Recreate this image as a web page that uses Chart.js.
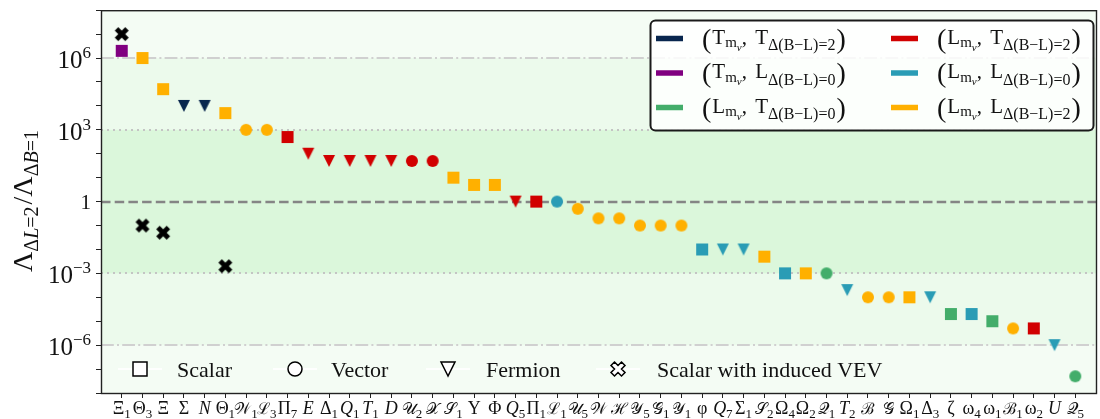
<!DOCTYPE html>
<html><head><meta charset="utf-8">
<script src="https://cdn.jsdelivr.net/npm/chart.js@4"></script>
<style>
html,body{margin:0;padding:0;overflow:hidden;background:#fff;width:1100px;height:419px}
#wrap{width:1104px;height:419px}
canvas{display:block}
</style></head>
<body><div id="wrap"><canvas id="c" width="1104" height="419"></canvas></div>
<script>
// ---------------- data ----------------
const categories = ['Ξ₁','Θ₃','Ξ','Σ','N','Θ₁','𝒲₁','ℒ₃','Π₇','E','Δ₁','Q₁','T₁','D','𝒰₂','𝒳','𝒮₁','Υ','Φ','Q₅','Π₁','ℒ₁','𝒰₅','𝒲','ℋ','𝒴₅','𝒢₁','𝒴₁','φ','Q₇','Σ₁','𝒮₂','Ω₄','Ω₂','𝒬₁','T₂','ℬ','𝒢','Ω₁','Δ₃','ζ','ω₄','ω₁','ℬ₁','ω₂','U','𝒬₅'];
const values = [2e6,1e6,5e4,1e4,1e4,5e3,1e3,1e3,5e2,1e2,50,50,50,50,50,50,10,5,5,1,1,1,0.5,0.2,0.2,0.1,0.1,0.1,1e-2,1e-2,1e-2,5e-3,1e-3,1e-3,1e-3,2e-4,1e-4,1e-4,1e-4,1e-4,2e-5,2e-5,1e-5,5e-6,5e-6,1e-6,5e-8];
const groups = ['TL0','LL2','LL2','TT2','TT2','LL2','LL2','LL2','LT2','LT2','LT2','LT2','LT2','LT2','LT2','LT2','LL2','LL2','LL2','LT2','LT2','LL0','LL2','LL2','LL2','LL2','LL2','LL2','LL0','LL0','LL0','LL2','LL0','LL2','LT0','LL0','LL2','LL2','LL2','LL0','LT0','LL0','LT0','LL2','LT2','LL0','LT0'];
const particles = ['S','S','S','F','F','S','V','V','S','F','F','F','F','F','V','V','S','S','S','F','S','V','V','V','V','V','V','V','S','F','F','S','S','S','V','F','V','V','S','F','S','S','S','V','S','F','V'];
const vevCategories = ['Ξ₁','Θ₃','Ξ','Θ₁'];
const vevValues = [1e7,0.1,0.05,2e-3];
const groupKeys = ['TT2','TL0','LT0','LT2','LL0','LL2'];
const groupColors = ['#08264e','#800080','#43ad6a','#d10000','#2a9cb5','#ffb000'];
const legendMass = ['T','T','L','L','L','L'];
const legendDelta = ['T','L','T','T','L','L'];
const legendDeltaVal = ['2','0','0','2','0','2'];
const yTickExponents = [-6,-3,0,3,6];
const markerLegendShapes = ['S','V','F','X'];
const markerLegendLabels = ['Scalar','Vector','Fermion','Scalar with induced VEV'];

// ---------------- helpers ----------------
const SERIF = '"Liberation Serif","DejaVu Serif",serif';
function shapePath(g, shape, s){
  const h = s/2; g.beginPath();
  if (shape==='S') g.rect(-h,-h,s,s);
  else if (shape==='V') g.arc(0,0,h,0,Math.PI*2);
  else if (shape==='F'){ g.moveTo(0,h); g.lineTo(-h,-h); g.lineTo(h,-h); g.closePath(); }
  else { const p=[[-1,-2],[0,-1],[1,-2],[2,-1],[1,0],[2,1],[1,2],[0,1],[-1,2],[-2,1],[-1,0],[-2,-1]];
    p.forEach((q,i)=>{const x=q[0]/4*s,y=q[1]/4*s; i?g.lineTo(x,y):g.moveTo(x,y);}); g.closePath(); }
}
const SIZES = {S:12,V:12,F:12,X:14};
const cache = {};
function markerImg(shape,color){
  const key=shape+color; if(cache[key]) return cache[key];
  const s=SIZES[shape], d=s+4, c=document.createElement('canvas');
  c.width=d; c.height=d; const g=c.getContext('2d');
  g.translate(d/2,d/2); shapePath(g,shape,s); g.fillStyle=color; g.fill();
  return cache[key]=c;
}
function drawRuns(ctx, runs, x, y, measureOnly){
  let cx=x;
  for(const r of runs){
    ctx.font=(r.st?r.st+' ':'')+r.sz+'px '+SERIF;
    if(!measureOnly) ctx.fillText(r.t, cx, y+(r.dy||0));
    cx+=ctx.measureText(r.t).width+(r.sp||0);
  }
  return cx-x;
}
const SUBS='₀₁₂₃₄₅₆₇₈₉';
function splitLabel(s){
  let main='',sub='';
  for(const ch of Array.from(s)){ const k=SUBS.indexOf(ch); if(k>=0) sub+=String(k); else main+=ch; }
  return {main,sub};
}

// ---------------- datasets ----------------
const datasets = groupKeys.map((k,gi)=>{
  const idx = categories.map((_,i)=>i).filter(i=>groups[i]===k);
  return { label:k, data: idx.map(i=>({x:i,y:values[i]})),
    pointStyle: idx.map(i=>markerImg(particles[i],groupColors[gi])), pointRadius:6, showLine:false };
});
datasets.push({ label:'VEV', data: vevCategories.map((c,j)=>({x:categories.indexOf(c),y:vevValues[j]})),
  pointStyle: markerImg('X','#000'), pointRadius:7, showLine:false });

// ---------------- decoration plugin ----------------
const deco = {
  id:'deco',
  beforeDraw(chart){
    const {ctx,chartArea:a,scales:{y}}=chart; ctx.save();
    const band=(v1,v2,col)=>{const y1=y.getPixelForValue(v2),y2=y.getPixelForValue(v1); ctx.fillStyle=col; ctx.fillRect(a.left,y1,a.right-a.left,y2-y1);};
    band(1e-8,1e8,'#f4fcf4'); band(1e-6,1e6,'#ecfaec'); band(1e-3,1e3,'#dbf7db');
    ctx.restore();
  },
  beforeDatasetsDraw(chart){
    const {ctx,chartArea:a,scales:{y}}=chart; ctx.save();
    const hl=(v,dash,col,lw)=>{const py=Math.round(y.getPixelForValue(v)); ctx.beginPath(); ctx.setLineDash(dash); ctx.strokeStyle=col; ctx.lineWidth=lw; ctx.moveTo(a.left,py); ctx.lineTo(a.right,py); ctx.stroke();};
    hl(1e6,[12.8,3.2,2,3.2],'#d0d0d0',2); hl(1e-6,[12.8,3.2,2,3.2],'#d0d0d0',2);
    hl(1e3,[2,4],'#c4c4c4',2); hl(1e-3,[2,4],'#c4c4c4',2);
    hl(1,[9.5,4.2],'#858585',2.5);
    ctx.restore();
  },
  afterDraw(chart){
    const {ctx,chartArea:a,scales:{x,y}}=chart; ctx.save();
    ctx.strokeStyle='#222'; ctx.lineWidth=1.4; ctx.setLineDash([]);
    ctx.strokeRect(a.left+0.5,a.top+0.5,a.right-a.left,a.bottom-a.top);
    ctx.fillStyle='#111';
    categories.forEach((c,i)=>{
      const {main,sub}=splitLabel(c);
      const it=/^[A-Z]$/.test(main)?'italic':'';
      const script=main.codePointAt(0)>0x2000;
      const runs=[{t:main,sz:script?16:18,st:it}]; if(sub) runs.push({t:sub,sz:13,dy:3.5});
      const w=drawRuns(ctx,runs,0,0,true);
      drawRuns(ctx,runs,x.getPixelForValue(i)-w/2,414);
    });
    ctx.textAlign='left';
    yTickExponents.forEach(e=>{
      const py=y.getPixelForValue(Math.pow(10,e));
      let runs;
      if(e===0) runs=[{t:'1',sz:21,dy:7}];
      else runs=[{t:'10',sz:25,dy:10},{t:String(e).replace('-','−'),sz:17,dy:0}];
      const w=drawRuns(ctx,runs,0,py,true);
      drawRuns(ctx,runs,91-w,py);
    });
    ctx.save(); ctx.translate(32,201); ctx.rotate(-Math.PI/2);
    const tr=[{t:'Λ',sz:28},{t:'Δ',sz:20,dy:6},{t:'L',sz:20,dy:6,st:'italic'},{t:'=2',sz:20,dy:6,sp:2},{t:'/',sz:28},
      {t:'Λ',sz:28},{t:'Δ',sz:20,dy:6},{t:'B',sz:20,dy:6,st:'italic'},{t:'=1',sz:20,dy:6}];
    const tw=drawRuns(ctx,tr,0,0,true); drawRuns(ctx,tr,-tw/2,0); ctx.restore();
    ctx.beginPath(); ctx.roundRect(650.5,20.5,443,110,5);
    ctx.fillStyle='rgba(255,255,255,0.85)'; ctx.fill();
    ctx.strokeStyle='#1a1a1a'; ctx.lineWidth=2; ctx.stroke();
    const rowY=[38.5,73,107.5], handleX=[656,891], textX=[702,937];
    groupKeys.forEach((k,i)=>{
      const col=i<3?0:1, ry=rowY[i%3];
      ctx.strokeStyle=groupColors[i]; ctx.lineWidth=5.5; ctx.beginPath();
      ctx.moveTo(handleX[col],ry); ctx.lineTo(handleX[col]+27,ry); ctx.stroke();
      ctx.fillStyle='#111';
      drawRuns(ctx,[{t:'(',sz:28,dy:4,sp:1},{t:legendMass[i],sz:21},{t:'m',sz:15,dy:3.5},{t:'ν',sz:11,dy:7,st:'italic'},
        {t:', ',sz:21,sp:3},{t:legendDelta[i],sz:21},{t:'Δ(B−L)='+legendDeltaVal[i],sz:16,dy:6.5,sp:1},{t:')',sz:28,dy:4}],textX[col],ry+5);
    });
    const mcx=[140,295,448,618], mtx=[177,331,486,657], my=369;
    markerLegendShapes.forEach((s,i)=>{
      ctx.strokeStyle='rgba(255,255,255,0.9)'; ctx.lineWidth=2; ctx.beginPath();
      ctx.moveTo(mcx[i]-22,my); ctx.lineTo(mcx[i]+22,my); ctx.stroke();
      ctx.save(); ctx.translate(mcx[i],my); shapePath(ctx,s,14); ctx.fillStyle='#fff'; ctx.fill();
      ctx.strokeStyle='#000'; ctx.lineWidth=1.5; ctx.stroke(); ctx.restore();
      ctx.fillStyle='#111'; drawRuns(ctx,[{t:markerLegendLabels[i],sz:22}],mtx[i],my+8);
    });
    ctx.restore();
  }
};

new Chart(document.getElementById('c'),{
  type:'scatter',
  data:{datasets},
  plugins:[deco],
  options:{
    responsive:false, animation:false, devicePixelRatio:1, events:[],
    layout:{padding:{top:9,left:0,right:0,bottom:0}},
    plugins:{legend:{display:false},tooltip:{enabled:false}},
    scales:{
      x:{type:'linear',min:-1,max:47,
        afterBuildTicks:s=>{s.ticks=categories.map((_,i)=>({value:i}));},
        ticks:{autoSkip:false,callback:()=>'',maxRotation:0},
        grid:{drawOnChartArea:false,drawTicks:true,tickLength:5,color:'#222'},
        border:{display:false},
        afterFit:s=>{s.height=26;}},
      y:{type:'logarithmic',min:1e-8,max:1e8,
        afterBuildTicks:s=>{const t=[];for(let e=-8;e<=8;e++)t.push({value:Math.pow(10,e)});s.ticks=t;},
        ticks:{autoSkip:false,callback:()=>''},
        grid:{drawOnChartArea:false,drawTicks:true,tickLength:5,color:'#222'},
        border:{display:false},
        afterFit:s=>{s.width=101;}}
    }
  }
});
</script>
</body></html>
